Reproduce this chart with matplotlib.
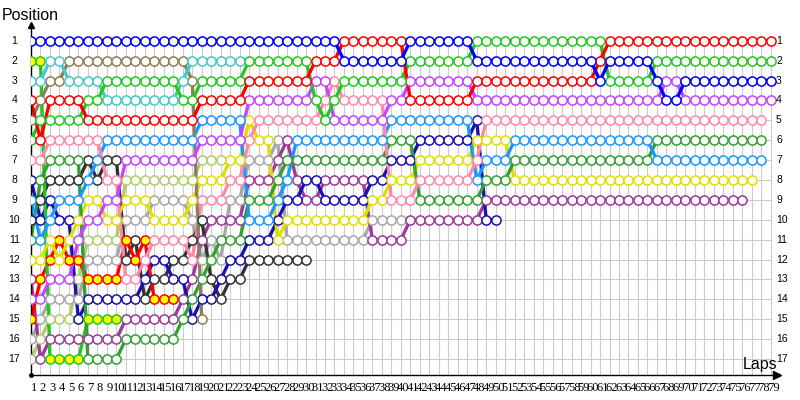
import matplotlib
matplotlib.use("Agg")
import matplotlib.pyplot as plt

# lap chart: position of every car after each lap (lap 1 first)
n_laps = 79
n_pos = 17

blue = [1, 1, 1, 1, 1, 1, 1, 1, 1, 1,
        1, 1, 1, 1, 1, 1, 1, 1, 1, 1,
        1, 1, 1, 1, 1, 1, 1, 1, 1, 1,
        1, 1, 1, 2, 2, 2, 2, 2, 2, 2,
        1, 1, 1, 1, 1, 1, 1, 2, 2, 2,
        2, 2, 2, 2, 2, 2, 2, 2, 2, 2,
        3, 2, 2, 2, 2, 2, 3, 4, 4, 3,
        3, 3, 3, 3, 3, 3, 3, 3, 3]
red = [4, 6, 4, 4, 4, 4, 5, 5, 5, 5,
       5, 5, 5, 5, 5, 5, 5, 5, 4, 4,
       4, 4, 4, 3, 3, 3, 3, 3, 3, 3,
       2, 2, 2, 1, 1, 1, 1, 1, 1, 1,
       4, 4, 4, 4, 4, 4, 4, 3, 3, 3,
       3, 3, 3, 3, 3, 3, 3, 3, 3, 3,
       2, 1, 1, 1, 1, 1, 1, 1, 1, 1,
       1, 1, 1, 1, 1, 1, 1, 1, 1]
green = [6, 5, 5, 5, 5, 5, 4, 4, 3, 3,
         3, 3, 3, 3, 3, 3, 4, 4, 3, 3,
         3, 3, 3, 2, 2, 2, 2, 2, 2, 2,
         4, 5, 4, 3, 3, 3, 3, 3, 3, 3,
         2, 2, 2, 2, 2, 2, 2, 1, 1, 1,
         1, 1, 1, 1, 1, 1, 1, 1, 1, 1,
         1, 3, 3, 3, 3, 3, 2, 2, 2, 2,
         2, 2, 2, 2, 2, 2, 2, 2, 2]
cyan = [3, 3, 2, 2, 3, 3, 3, 3, 4, 4,
        4, 4, 4, 4, 4, 4, 3, 2, 2, 2,
        2, 2, 2]
olive = [5, 4, 3, 3, 2, 2, 2, 2, 2, 2,
         2, 2, 2, 2, 2, 2, 2, 3, 15]
green_y = [2, 2, 17, 17, 17, 17, 15, 15, 15, 15]
red_y = [15, 13, 12, 11, 12, 12, 13, 13, 13, 13,
         11, 12, 11, 14, 14, 14]
pink = [7, 7, 6, 6, 6, 6, 6, 6, 8, 8,
        13, 13, 12, 11, 11, 11, 11, 12, 9, 9,
        9, 8, 8, 6, 5, 5, 5, 5, 5, 5,
        5, 4, 3, 4, 4, 4, 4, 4, 9, 9,
        9, 8, 8, 8, 8, 8, 8, 7, 5, 5,
        5, 5, 5, 5, 5, 5, 5, 5, 5, 5,
        5, 5, 5, 5, 5, 5, 5, 5, 5, 5,
        5, 5, 5, 5, 5, 5, 5, 5]
navy = [8, 10, 9, 10, 10, 15, 14, 14, 14, 14,
        14, 14, 13, 12, 12, 13, 13, 15, 14, 14,
        13, 12, 12, 11, 11, 11, 10, 9, 9, 8,
        8, 9, 9, 9, 9, 9, 8, 8, 7, 7,
        7, 6, 6, 6, 6, 6, 6, 5, 10, 10]
sky = [9, 11, 10, 9, 9, 9, 8, 7, 6, 6,
       6, 6, 6, 6, 6, 6, 6, 6, 5, 5,
       5, 5, 5, 10, 10, 10, 9, 8, 6, 6,
       6, 6, 6, 6, 6, 6, 6, 6, 5, 5,
       5, 5, 5, 5, 5, 5, 5, 8, 7, 7,
       7, 6, 6, 6, 6, 6, 6, 6, 6, 6,
       6, 6, 6, 6, 6, 6, 7, 7, 7, 7,
       7, 7, 7, 7, 7, 7, 7, 7]
black = [10, 9, 8, 8, 8, 8, 7, 8, 7, 7,
         12, 11, 14, 13, 13, 12, 12, 11, 10, 13,
         14, 13, 13, 12, 12, 12, 12, 12, 12, 12]
dkgreen = [11, 8, 7, 7, 7, 7, 17, 17, 17, 17,
           16, 16, 16, 16, 16, 16, 15, 14, 13, 12,
           11, 11, 11, 9, 9, 9, 8, 7, 7, 7,
           7, 7, 7, 7, 7, 7, 7, 7, 6, 6,
           6, 9, 9, 9, 9, 9, 9, 9, 8, 8,
           8, 7, 7, 7, 7, 7, 7, 7, 7, 7,
           7, 7, 7, 7, 7, 7, 6, 6, 6, 6,
           6, 6, 6, 6, 6, 6, 6, 6]
yellow = [12, 12, 11, 12, 11, 10, 9, 9, 10, 10,
          9, 9, 9, 10, 10, 10, 10, 9, 8, 8,
          8, 7, 7, 5, 6, 6, 11, 10, 10, 10,
          10, 10, 10, 10, 10, 10, 9, 9, 8, 8,
          8, 7, 7, 7, 7, 7, 7, 6, 6, 6,
          6, 8, 8, 8, 8, 8, 8, 8, 8, 8,
          8, 8, 8, 8, 8, 8, 8, 8, 8, 8,
          8, 8, 8, 8, 8, 8, 8]
violet = [14, 14, 13, 13, 13, 11, 10, 10, 9, 9,
          7, 7, 7, 7, 7, 7, 7, 7, 6, 6,
          6, 6, 6, 4, 4, 4, 4, 4, 4, 4,
          3, 3, 5, 5, 5, 5, 5, 5, 4, 4,
          3, 3, 3, 3, 3, 3, 3, 4, 4, 4,
          4, 4, 4, 4, 4, 4, 4, 4, 4, 4,
          4, 4, 4, 4, 4, 4, 4, 3, 3, 4,
          4, 4, 4, 4, 4, 4, 4, 4, 4]
magenta = [13, 17, 16, 16, 16, 16, 16, 16, 16, 16,
           15, 15, 15, 15, 15, 15, 14, 13, 11, 10,
           10, 10, 10, 8, 8, 8, 7, 6, 8, 9,
           9, 8, 8, 8, 8, 8, 11, 11, 11, 11,
           10, 10, 10, 10, 10, 10, 10, 10, 9, 9,
           9, 9, 9, 9, 9, 9, 9, 9, 9, 9,
           9, 9, 9, 9, 9, 9, 9, 9, 9, 9,
           9, 9, 9, 9, 9, 9]
gray = [16, 15, 14, 14, 14, 14, 12, 12, 12, 12,
        10, 10, 10, 9, 9, 9, 9, 10, 12, 11,
        12, 9, 9, 7, 7, 7, 6, 11, 11, 11,
        11, 11, 11, 11, 11, 11, 10, 10, 10, 10]
lime = [17, 16, 15, 15, 15, 13, 11, 11, 11, 11,
        8, 8, 8, 8, 8, 8, 8, 8, 7, 7, 7]

# (positions, line colour, marker face)
cars = [
    (lime, "#b0cc6c", "white"),
    (gray, "#a8a8a8", "white"),
    (magenta, "#9b3a9b", "white"),
    (black, "#333333", "white"),
    (navy, "#1a10b0", "white"),
    (red_y, "#ff0000", "#ffff00"),
    (green_y, "#1ec81e", "#ffff00"),
    (yellow, "#dede00", "white"),
    (dkgreen, "#33a033", "white"),
    (sky, "#1e96ff", "white"),
    (pink, "#ff88aa", "white"),
    (olive, "#8c8058", "white"),
    (cyan, "#48c8c8", "white"),
    (violet, "#c445ff", "white"),
    (green, "#22c822", "white"),
    (red, "#ff0000", "white"),
    (blue, "#0000ff", "white"),
]

fig = plt.figure(figsize=(8, 4), dpi=100)
ax = fig.add_axes([31 / 800, 25 / 400, 746 / 800, 350 / 400])
ax.set_xlim(1, 79.66)
ax.set_ylim(17.8, 0.21)

laps = list(range(1, n_laps + 1))
rows = list(range(1, n_pos + 1))
ax.vlines(laps, 1, 17.8, color="#cccccc", lw=0.8, zorder=0)
ax.hlines(rows, 1, n_laps, color="#cccccc", lw=0.8, zorder=0)

for pos, col, face in cars:
    x = laps[:len(pos)]
    ax.plot(x, pos, color=col, lw=2.4, zorder=2, solid_joinstyle="round")
    ax.plot(x, pos, "o", ms=6.6, mfc=face, mec=col, mew=1.1, zorder=3)

for s in ["top", "right"]:
    ax.spines[s].set_visible(False)
for s in ["left", "bottom"]:
    ax.spines[s].set_color("black")
    ax.spines[s].set_linewidth(1.0)
ax.set_xticks([])
ax.set_yticks([])
ax.plot([0], [1], marker="^", ms=4, color="black", transform=ax.transAxes, clip_on=False)
ax.plot([1], [0], marker=">", ms=6, color="black", transform=ax.transAxes, clip_on=False)
ax.plot([0], [0], marker="o", ms=2.5, color="black", transform=ax.transAxes, clip_on=False)

for L in laps:
    ax.text(L + 0.27, -0.037, str(L), transform=ax.get_xaxis_transform(),
            ha="center", va="center", fontsize=9, family="Liberation Serif")
for P in rows:
    ax.text(-0.0221, P, str(P), transform=ax.get_yaxis_transform(),
            ha="center", va="center", fontsize=7.5, family="Liberation Sans")
    ax.text(0.9987, P, str(P), transform=ax.get_yaxis_transform(),
            ha="left", va="center", fontsize=7.5, family="Liberation Sans")

fig.text(2 / 800, 1 - 15 / 400, "Position", ha="left", va="center",
         fontsize=11.5, family="Liberation Sans")
fig.text(777 / 800, 1 - 364 / 400, "Laps", ha="right", va="center",
         fontsize=11.5, family="Liberation Sans")

fig.savefig("out.png", dpi=100)
